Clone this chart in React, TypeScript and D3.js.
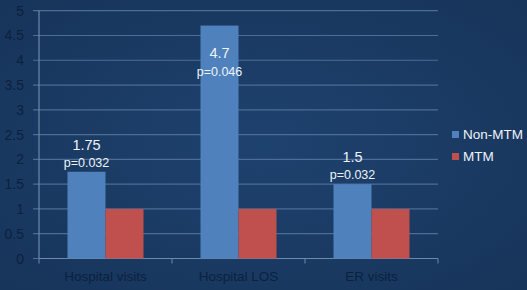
import React from "react";
import * as d3 from "d3";

const categories = ["Hospital visits", "Hospital LOS", "ER visits"];
const seriesNames = ["Non-MTM", "MTM"];
const nonMtm = [1.75, 4.7, 1.5];
const mtm = [1, 1, 1];
const valueLabels = ["1.75", "4.7", "1.5"];
const pLabels = ["p=0.032", "p=0.046", "p=0.032"];
const yTicks = [0, 0.5, 1, 1.5, 2, 2.5, 3, 3.5, 4, 4.5, 5];
const colors = ["#4f81bd", "#c0504d"];

const W = 527;
const H = 290;

export default function App() {
  const x0 = d3.scaleBand<string>().domain(categories).range([39, 438]).paddingInner(0).paddingOuter(0);
  const x1 = d3.scaleBand<string>().domain(seriesNames).range([0, x0.bandwidth()]).paddingInner(0).paddingOuter(0.75);
  const y = d3.scaleLinear().domain([0, 5]).range([258.5, 10.7]);
  const series = [nonMtm, mtm];
  const font = "Liberation Sans, Arial, sans-serif";
  const labelColor = "#0b2140";
  return (
    <svg width={W} height={H} style={{ position: "absolute", left: 0, top: 0 }} fontFamily={font}>
      <defs>
        <radialGradient id="bg" cx="0.5" cy="0.5" r="0.7">
          <stop offset="0" stopColor="#1e426e" />
          <stop offset="1" stopColor="#17345a" />
        </radialGradient>
      </defs>
      <rect x={0} y={0} width={W} height={H} fill="url(#bg)" />
      {yTicks.map((t) => (
        <g key={t}>
          <line x1={33} x2={438} y1={y(t)} y2={y(t)} stroke="#4d6d96" strokeWidth={1.2} />
          <text x={24} y={y(t) + 5} textAnchor="end" fontSize={14} fill={labelColor}>
            {t}
          </text>
        </g>
      ))}
      <line x1={39} x2={39} y1={y(5)} y2={y(0)} stroke="#6d89ad" strokeWidth={1.2} />
      <line x1={39} x2={438} y1={y(0)} y2={y(0)} stroke="#6d89ad" strokeWidth={1.2} />
      {[0, 1, 2, 3].map((i) => {
        const xx = 39 + i * x0.step();
        return <line key={i} x1={xx} x2={xx} y1={y(0)} y2={y(0) + 5} stroke="#6d89ad" strokeWidth={1} />;
      })}
      {categories.map((c, ci) => (
        <g key={c}>
          {series.map((s, si) => (
            <rect
              key={si}
              x={(x0(c) as number) + (x1(seriesNames[si]) as number)}
              y={y(s[ci])}
              width={x1.bandwidth()}
              height={y(0) - y(s[ci])}
              fill={colors[si]}
            />
          ))}
          <text
            x={(x0(c) as number) + (x1(seriesNames[0]) as number) + x1.bandwidth() / 2}
            y={ci === 1 ? y(nonMtm[ci]) + 32 : y(nonMtm[ci]) - 22}
            textAnchor="middle"
            fontSize={14.5}
            fill="#eef3f9"
          >
            {valueLabels[ci]}
          </text>
          <text
            x={(x0(c) as number) + (x1(seriesNames[0]) as number) + x1.bandwidth() / 2}
            y={ci === 1 ? y(nonMtm[ci]) + 50 : y(nonMtm[ci]) - 5}
            textAnchor="middle"
            fontSize={12.5}
            fill="#eef3f9"
          >
            {pLabels[ci]}
          </text>
          <text
            x={(x0(c) as number) + x0.bandwidth() / 2}
            y={281}
            textAnchor="middle"
            fontSize={13.5}
            fill={labelColor}
          >
            {c}
          </text>
        </g>
      ))}
      {seriesNames.map((n, i) => (
        <g key={n}>
          <rect x={452} y={131 + i * 22} width={7} height={7} fill={colors[i]} />
          <text x={463} y={139 + i * 22} fontSize={13.5} fill="#eef3f9">
            {n}
          </text>
        </g>
      ))}
    </svg>
  );
}
